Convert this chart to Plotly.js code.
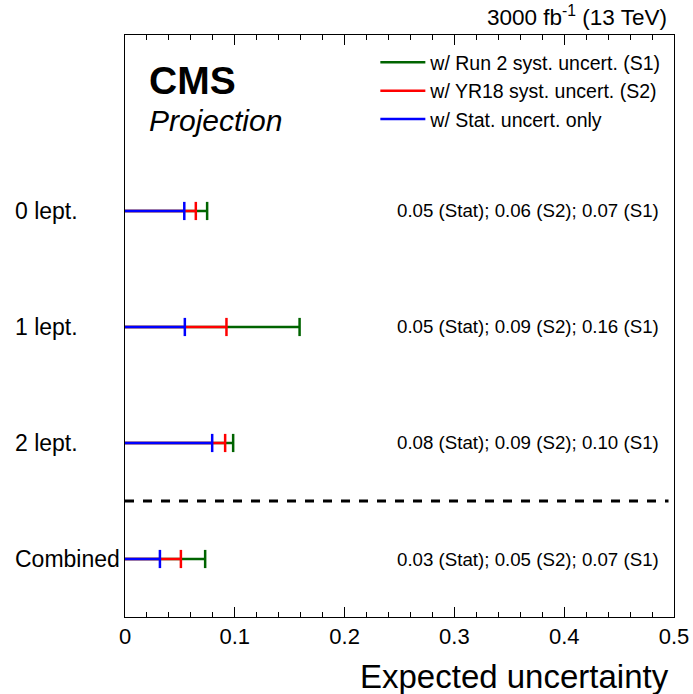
<!DOCTYPE html>
<html><head><meta charset="utf-8">
<script src="https://cdn.plot.ly/plotly-3.0.1.min.js"></script>
<style>body{margin:0;background:#fff}#c{width:693px;height:694px}</style>
</head><body><div id="c"></div>
<script>
const categories = ['0 lept.', '1 lept.', '2 lept.', 'Combined'];
const statOnly = [0.054, 0.0545, 0.0794, 0.0318];
const yr18 = [0.0645, 0.0924, 0.0912, 0.0509];
const run2 = [0.0748, 0.159, 0.0985, 0.073];
const seriesNames = ['w/ Run 2 syst. uncert. (S1)', 'w/ YR18 syst. uncert. (S2)', 'w/ Stat. uncert. only'];
const xTickVals = [0, 0.1, 0.2, 0.3, 0.4, 0.5];
const xTickText = ['0', '0.1', '0.2', '0.3', '0.4', '0.5'];

const FONT = 'Liberation Sans, Arial, sans-serif';
const series = [
  {name: seriesNames[0], vals: run2, color: '#006400'},
  {name: seriesNames[1], vals: yr18, color: '#ff0000'},
  {name: seriesNames[2], vals: statOnly, color: '#0000ff'}
];
const traces = [];
series.forEach(s => {
  const xs = [], ys = [];
  categories.forEach((c, i) => { xs.push(0, s.vals[i], null); ys.push(c, c, null); });
  traces.push({type: 'scatter', mode: 'lines', x: xs, y: ys, name: s.name,
    line: {color: s.color, width: 2.5}, hoverinfo: 'skip'});
});
series.forEach(s => {
  traces.push({type: 'scatter', mode: 'markers', x: s.vals, y: categories, showlegend: false,
    marker: {symbol: 'line-ns', size: 13, line: {color: s.color, width: 2.5}}, hoverinfo: 'skip'});
});

const fmt = v => (Math.round(v * 100) / 100).toFixed(2);
const annotations = [];
categories.forEach((c, i) => {
  annotations.push({xref: 'paper', x: -0.204, xanchor: 'left', yref: 'y', y: c, yanchor: 'middle',
    text: c, showarrow: false, font: {family: FONT, size: 23, color: '#000'}});
  annotations.push({xref: 'paper', x: 0.976, xanchor: 'right', yref: 'y', y: c, yanchor: 'middle',
    text: fmt(statOnly[i]) + ' (Stat); ' + fmt(yr18[i]) + ' (S2); ' + fmt(run2[i]) + ' (S1)',
    showarrow: false, font: {family: FONT, size: 18.7, color: '#000'}});
});
annotations.push({xref: 'paper', yref: 'paper', x: 0.99, xanchor: 'right', y: 1.0, yanchor: 'bottom', yshift: 3,
  text: '3000 fb<sup>-1</sup> (13 TeV)', showarrow: false, font: {family: FONT, size: 22.5, color: '#000'}});
annotations.push({xref: 'paper', yref: 'paper', x: 0.04, xanchor: 'left', y: 0.922, yanchor: 'middle',
  text: '<b>CMS</b>', showarrow: false, font: {family: FONT, size: 39, color: '#000'}});
annotations.push({xref: 'paper', yref: 'paper', x: 0.04, xanchor: 'left', y: 0.853, yanchor: 'middle',
  text: '<i>Projection</i>', showarrow: false, font: {family: FONT, size: 30, color: '#000'}});
annotations.push({xref: 'paper', yref: 'paper', x: 0.995, xanchor: 'right', y: 0, yanchor: 'top', yshift: -39,
  text: 'Expected uncertainty', showarrow: false, font: {family: FONT, size: 33, color: '#000'}});

const layout = {
  width: 693, height: 694,
  margin: {l: 125, r: 19, t: 35, b: 77},
  paper_bgcolor: '#fff', plot_bgcolor: '#fff',
  font: {family: FONT, color: '#000'},
  showlegend: true,
  legend: {x: 0.456, xanchor: 'left', y: 0.986, yanchor: 'top', bgcolor: 'rgba(0,0,0,0)',
    font: {family: FONT, size: 19.5, color: '#000'}, tracegroupgap: 0, itemwidth: 45},
  xaxis: {range: [0, 0.5], showgrid: false, zeroline: false, showline: true, linecolor: '#000', linewidth: 1,
    mirror: 'allticks', ticks: 'inside', ticklen: 10, tickcolor: '#000', tickvals: xTickVals, ticktext: xTickText,
    tickfont: {family: FONT, size: 22, color: '#000'},
    minor: {dtick: 0.02, ticks: 'inside', ticklen: 5, tickcolor: '#000', showgrid: false}},
  yaxis: {type: 'category', categoryorder: 'array', categoryarray: categories.slice().reverse(),
    range: [-0.5, 4.517], showgrid: false, zeroline: false, showline: true, linecolor: '#000', linewidth: 1,
    mirror: true, ticks: '', showticklabels: false},
  shapes: [{type: 'line', xref: 'paper', x0: 0, x1: 0.99, yref: 'y', y0: 0.5, y1: 0.5,
    line: {color: '#000', width: 3, dash: 'dash'}}],
  annotations: annotations
};
Plotly.newPlot('c', traces, layout, {staticPlot: true});
</script></body></html>
